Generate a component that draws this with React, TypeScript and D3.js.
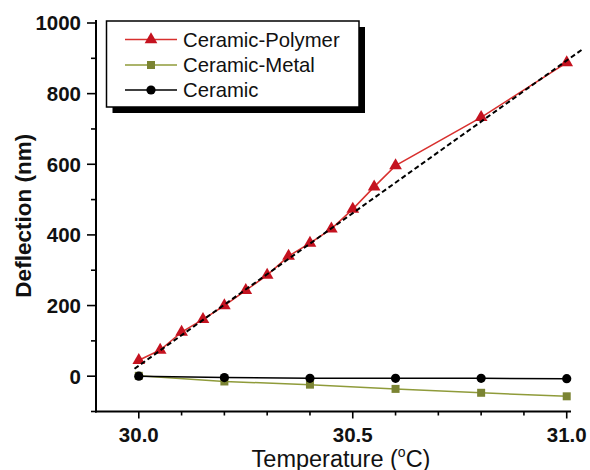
import React from "react";
import * as d3 from "d3";

const polyT = [30.0, 30.05, 30.1, 30.15, 30.2, 30.25, 30.3, 30.35, 30.4, 30.45, 30.5, 30.55, 30.6, 30.8, 31.0];
const polyD = [45, 74, 125, 161, 200, 243, 286, 340, 377, 417, 473, 536, 596, 733, 888];
const metalT = [30.0, 30.2, 30.4, 30.6, 30.8, 31.0];
const metalD = [1, -15, -24, -36, -47, -57];
const ceramicT = [30.0, 30.2, 30.4, 30.6, 30.8, 31.0];
const ceramicD = [0, -4, -6, -6, -6, -7];
const fitT = [29.99, 31.035];
const fitD = [21, 924];
const xMajor = [30.0, 30.5, 31.0];
const xMinor = [30.1, 30.2, 30.3, 30.4, 30.6, 30.7, 30.8, 30.9];
const yMajor = [0, 200, 400, 600, 800, 1000];
const yMinor = [-100, 100, 300, 500, 700, 900];
const legendNames = ["Ceramic-Polymer", "Ceramic-Metal", "Ceramic"];

const FONT = "'Liberation Sans', Arial, Helvetica, sans-serif";
const RED = "#c4121f";
const RED_LINE = "#d8302e";
const OLIVE = "#7b8433";
const OLIVE_LINE = "#8f9b3a";

export default function App() {
  const x = d3.scaleLinear().domain([29.9, 31.01]).range([96, 571]);
  const y = d3.scaleLinear().domain([-100, 1000]).range([411.5, 23]);
  const line = d3
    .line<[number, number]>()
    .x((d) => x(d[0]))
    .y((d) => y(d[1]));
  const tri = d3.symbol().type(d3.symbolTriangle).size(70)() as string;
  const sq = d3.symbol().type(d3.symbolSquare).size(64)() as string;

  const poly: [number, number][] = polyT.map((t, i) => [t, polyD[i]]);
  const metal: [number, number][] = metalT.map((t, i) => [t, metalD[i]]);
  const cer: [number, number][] = ceramicT.map((t, i) => [t, ceramicD[i]]);
  const fit: [number, number][] = fitT.map((t, i) => [t, fitD[i]]);

  const x0 = x.range()[0];
  const yb = y.range()[0];

  const legX = 106.5;
  const legY = 21;
  const legW = 252.5;
  const legH = 86;
  const rows = [39.5, 65, 90];
  const lineColors = [RED_LINE, OLIVE_LINE, "#000"];

  return (
    <svg
      width={590}
      height={470}
      style={{ position: "absolute", left: 0, top: 0, background: "#fff" }}
      fontFamily={FONT}
    >
      <rect x={0} y={0} width={590} height={470} fill="#fff" />
      {/* series */}
      <path d={line(metal) as string} fill="none" stroke={OLIVE_LINE} strokeWidth={1.5} />
      {metal.map((d, i) => (
        <path key={"m" + i} d={sq} transform={`translate(${x(d[0])},${y(d[1])})`} fill={OLIVE} />
      ))}
      <path d={line(cer) as string} fill="none" stroke="#000" strokeWidth={1.5} />
      {cer.map((d, i) => (
        <circle key={"c" + i} cx={x(d[0])} cy={y(d[1])} r={4.6} fill="#000" />
      ))}
      <path d={line(poly) as string} fill="none" stroke={RED_LINE} strokeWidth={1.5} />
      {poly.map((d, i) => (
        <path key={"p" + i} d={tri} transform={`translate(${x(d[0])},${y(d[1])})`} fill={RED} />
      ))}
      <path
        d={line(fit) as string}
        fill="none"
        stroke="#000"
        strokeWidth={2}
        strokeDasharray="5,3"
      />

      {/* axes */}
      <line x1={x0} x2={x0} y1={20} y2={yb + 1} stroke="#000" strokeWidth={2} />
      <line x1={x0 - 1} x2={x.range()[1]} y1={yb} y2={yb} stroke="#000" strokeWidth={2} />
      {yMajor.map((v) => (
        <g key={"ym" + v}>
          <line x1={x0 - 9} x2={x0} y1={y(v)} y2={y(v)} stroke="#000" strokeWidth={1.6} />
          <text
            x={x0 - 15}
            y={y(v)}
            dy="0.36em"
            textAnchor="end"
            fontSize={20.5}
            fontWeight="bold"
            fill="#111"
          >
            {v}
          </text>
        </g>
      ))}
      {yMinor.map((v) => (
        <line key={"yn" + v} x1={x0 - 5} x2={x0} y1={y(v)} y2={y(v)} stroke="#000" strokeWidth={1.6} />
      ))}
      {xMajor.map((v) => (
        <g key={"xm" + v}>
          <line x1={x(v)} x2={x(v)} y1={yb} y2={yb + 7} stroke="#000" strokeWidth={1.6} />
          <text
            x={x(v)}
            y={441.5}
            textAnchor="middle"
            fontSize={20.5}
            fontWeight="bold"
            fill="#111"
          >
            {v.toFixed(1)}
          </text>
        </g>
      ))}
      {xMinor.map((v) => (
        <line key={"xn" + v} x1={x(v)} x2={x(v)} y1={yb} y2={yb + 4} stroke="#000" strokeWidth={1.6} />
      ))}

      {/* axis titles */}
      <text
        transform={`translate(31,${(20 + yb) / 2}) rotate(-90)`}
        textAnchor="middle"
        fontSize={22.5}
        fontWeight="bold"
        fill="#111"
      >
        Deflection (nm)
      </text>
      <text x={341} y={466.5} textAnchor="middle" fontSize={23.5} fill="#111">
        Temperature (
        <tspan fontSize={14} dy={-10}>o</tspan>
        <tspan dy={10}>C)</tspan>
      </text>

      {/* legend */}
      <rect x={legX + 6} y={legY + 6} width={legW} height={legH} fill="#000" />
      <rect x={legX} y={legY} width={legW} height={legH} fill="#fff" stroke="#000" strokeWidth={1.5} />
      {legendNames.map((name, i) => (
        <g key={name}>
          <line x1={125} x2={177} y1={rows[i]} y2={rows[i]} stroke={lineColors[i]} strokeWidth={1.5} />
          {i === 0 && <path d={tri} transform={`translate(151,${rows[i]})`} fill={RED} />}
          {i === 1 && <path d={sq} transform={`translate(151,${rows[i]})`} fill={OLIVE} />}
          {i === 2 && <circle cx={151} cy={rows[i]} r={4.6} fill="#000" />}
          <text x={183} y={rows[i]} dy="0.36em" fontSize={20.3} fill="#111">
            {name}
          </text>
        </g>
      ))}
    </svg>
  );
}
